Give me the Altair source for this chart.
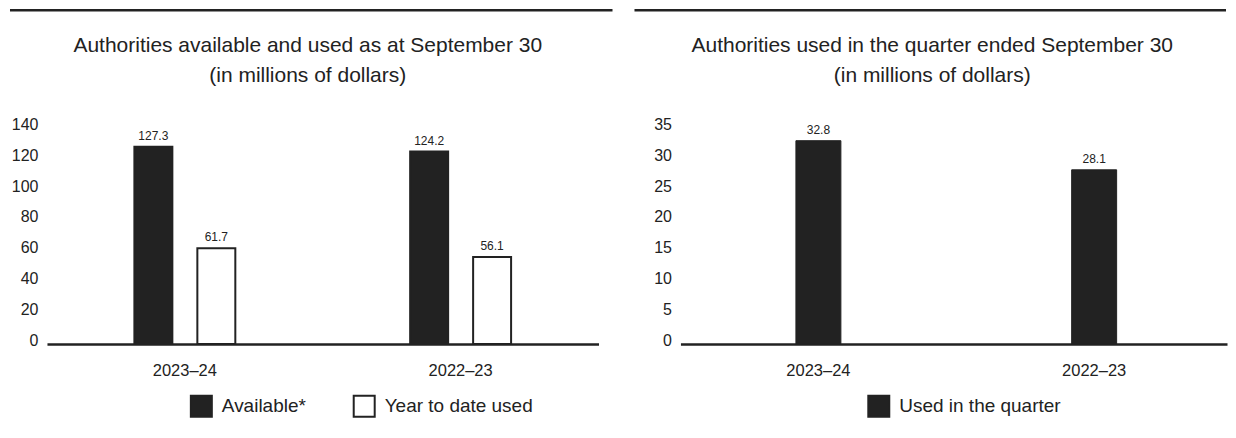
import altair as alt
import pandas as pd

years = ["2023–24", "2022–23"]
series_left = ["Available*", "Year to date used"]
available = [127.3, 124.2]
ytd_used = [61.7, 56.1]
series_right = ["Used in the quarter"]
quarter_used = [32.8, 28.1]

left_ticks = [0, 20, 40, 60, 80, 100, 120, 140]
right_ticks = [0, 5, 10, 15, 20, 25, 30, 35]

title_left = ["Authorities available and used as at September 30", "(in millions of dollars)"]
title_right = ["Authorities used in the quarter ended September 30", "(in millions of dollars)"]

FONT = "Liberation Sans"
INK = "#222222"

left_df = pd.DataFrame({
    "year": years * 2,
    "series": [series_left[0]] * 2 + [series_left[1]] * 2,
    "value": available + ytd_used,
})
right_df = pd.DataFrame({
    "year": years,
    "series": series_right * 2,
    "value": quarter_used,
})

WL = 552
WR = 547
H = 217


def header(lines, cx, x1, x2):
    d = pd.DataFrame({"t": ["\n".join(lines)]})
    rule = alt.Chart(d).mark_rule(color=INK, strokeWidth=2.5).encode(
        x=alt.value(x1), x2=alt.value(x2), y=alt.value(-117)
    )
    txt = alt.Chart(d).mark_text(
        font=FONT, fontSize=21, lineHeight=30, baseline="middle", align="center",
        color=INK, lineBreak="\n"
    ).encode(x=alt.value(cx), y=alt.value(-81), text="t:N")
    return rule, txt


x_axis = alt.Axis(title=None, labelAngle=0, ticks=False, domainColor=INK, domainWidth=2.5,
                  labelFontSize=16.5, labelColor=INK, labelPadding=19, labelFont=FONT)


def y_axis(vals):
    return alt.Axis(title=None, values=vals, grid=False, domain=False, ticks=False,
                    labelFontSize=16, labelColor=INK, labelPadding=9, labelFont=FONT,
                    labelOffset=-3)


def legend(x, extra=None):
    kw = dict(title=None, orient="none", legendX=x, legendY=268,
              direction="horizontal", symbolType="square", symbolSize=441,
              symbolStrokeColor=INK, symbolStrokeWidth=2,
              labelFontSize=19, labelColor=INK, labelFont=FONT,
              labelOffset=9, labelLimit=400)
    if extra:
        kw.update(extra)
    return alt.Legend(**kw)


# ---------- left panel ----------
xl = alt.X("year:N", sort=years, scale=alt.Scale(paddingInner=0.634, paddingOuter=0.317), axis=x_axis)
yl = alt.Y("value:Q", scale=alt.Scale(domain=[0, 140]), axis=y_axis(left_ticks))
offl = alt.XOffset("series:N", sort=series_left,
                   scale=alt.Scale(paddingInner=0.397, paddingOuter=0))

bars_l = alt.Chart(left_df).mark_bar(stroke=INK, strokeWidth=2).encode(
    x=xl, y=yl, xOffset=offl,
    fill=alt.Fill("series:N", sort=series_left,
                  scale=alt.Scale(domain=series_left, range=[INK, "#ffffff"]),
                  legend=legend(143, {"columnPadding": 43})),
)
text_l = alt.Chart(left_df).mark_text(baseline="bottom", dy=-4, fontSize=12, color=INK, font=FONT).encode(
    x=xl, y=yl, xOffset=offl, text=alt.Text("value:Q", format=".1f")
)
rule_l, title_l = header(title_left, 261, -37, 566)
left = alt.layer(rule_l, title_l, bars_l, text_l).properties(width=WL, height=H)

# ---------- right panel ----------
xr = alt.X("year:N", sort=years,
           scale=alt.Scale(paddingInner=0.634, paddingOuter=0.308, align=0.515), axis=x_axis)
yr = alt.Y("value:Q", scale=alt.Scale(domain=[0, 35]), axis=y_axis(right_ticks))
bars_r = alt.Chart(right_df).mark_bar(size=45, stroke=INK, strokeWidth=1).encode(
    x=xr, y=yr,
    fill=alt.Fill("series:N",
                  scale=alt.Scale(domain=series_right, range=[INK]),
                  legend=legend(187)),
)
text_r = alt.Chart(right_df).mark_text(baseline="bottom", dy=-4, fontSize=12, color=INK, font=FONT).encode(
    x=xr, y=yr, text=alt.Text("value:Q", format=".1f")
)
rule_r, title_r = header(title_right, 252, -46, 546)
right = alt.layer(rule_r, title_r, bars_r, text_r).properties(width=WR, height=H)

chart = alt.hconcat(left, right, spacing=18).resolve_scale(
    fill="independent", x="independent", y="independent"
).properties(
    padding={"left": 0, "top": 0, "right": 0, "bottom": 0}
).configure(
    font=FONT, background="#ffffff"
).configure_view(strokeWidth=0, stroke="transparent")

chart.save("out.html", embed_options={"renderer": "svg", "actions": False})
